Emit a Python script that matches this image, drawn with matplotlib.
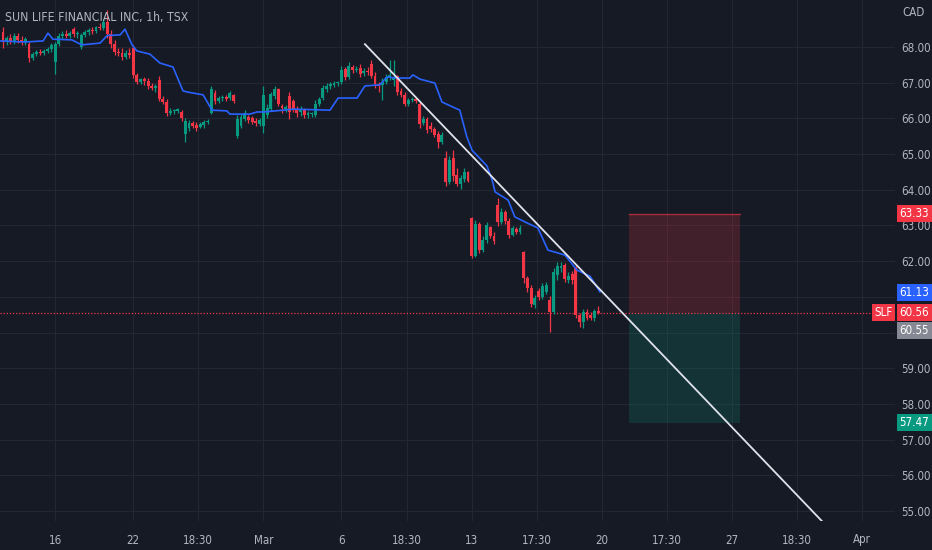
import matplotlib
matplotlib.use("Agg")
import matplotlib.pyplot as plt
import matplotlib.transforms as mtransforms
from matplotlib.patches import Rectangle

plt.rcParams['font.family'] = ['DejaVu Sans']
plt.rcParams['font.stretch'] = 'condensed'

# hourly bars, Feb 14 -> Mar 17 (7 bars per session)
opens = [
    68.42, 68.14, 68.25, 68.17, 68.31, 68.20, 68.14,
    68.08, 67.69, 67.80, 67.86, 67.83, 67.89, 67.94,
    67.58, 68.08, 68.31, 68.36, 68.31, 68.50, 68.36,
    68.00, 68.34, 68.42, 68.48, 68.45, 68.56, 68.53,
    68.70, 68.36, 68.08, 67.86, 67.83, 67.72, 67.83,
    67.97, 67.22, 67.02, 67.10, 67.05, 66.91, 66.85,
    67.08, 66.54, 66.46, 66.15, 66.21, 66.21, 66.18,
    65.56, 65.73, 65.87, 65.81, 65.76, 65.81, 65.90,
    66.15, 66.71, 66.49, 66.57, 66.60, 66.57, 66.66,
    65.51, 65.79, 65.98, 66.04, 66.01, 65.93, 65.84,
    65.79, 66.09, 66.26, 66.63, 66.82, 66.35, 66.26,
    66.63, 66.49, 66.23, 66.18, 66.23, 66.09, 66.12,
    66.09, 66.40, 66.57, 66.82, 66.91, 66.94, 66.99,
    67.02, 67.38, 67.16, 67.44, 67.36, 67.41, 67.27,
    67.33, 67.52, 67.19, 66.96, 66.94, 67.02, 67.13,
    67.08, 67.19, 66.77, 66.66, 66.40, 66.52, 66.54,
    66.40, 65.87, 65.98, 65.79, 65.70, 65.56, 65.34,
    64.89, 64.22, 64.89, 64.41, 64.16, 64.30, 64.50,
    63.21, 62.14, 63.04, 62.31, 62.59, 62.96, 62.70,
    63.57, 63.10, 63.38, 63.13, 62.73, 62.90, 62.82,
    62.26, 61.53, 61.25, 60.77, 61.16, 61.00, 61.14,
    60.91, 60.58, 61.61, 61.81, 61.89, 61.47, 61.64,
    61.81, 60.49, 60.30, 60.58, 60.49, 60.41, 60.60,
]
highs = [
    68.56, 68.31, 68.36, 68.39, 68.39, 68.31, 68.28,
    68.14, 67.86, 67.92, 67.94, 67.94, 68.00, 68.11,
    68.14, 68.39, 68.45, 68.48, 68.45, 68.56, 68.45,
    68.39, 68.48, 68.53, 68.56, 68.59, 68.67, 68.78,
    69.04, 68.48, 68.20, 67.97, 67.97, 67.92, 67.97,
    68.06, 67.27, 67.13, 67.16, 67.13, 66.99, 66.96,
    67.19, 66.63, 66.54, 66.29, 66.26, 66.29, 66.23,
    66.01, 65.95, 65.93, 65.90, 65.90, 65.95, 65.98,
    66.91, 66.80, 66.63, 66.66, 66.66, 66.77, 66.68,
    66.09, 66.12, 66.23, 66.09, 66.07, 66.01, 66.01,
    66.91, 66.40, 66.74, 66.91, 66.85, 66.40, 66.38,
    66.74, 66.54, 66.35, 66.35, 66.29, 66.21, 66.18,
    66.52, 66.60, 66.94, 66.99, 67.02, 67.05, 67.05,
    67.47, 67.44, 67.58, 67.50, 67.47, 67.52, 67.41,
    67.44, 67.64, 67.30, 67.02, 67.13, 67.24, 67.64,
    67.64, 67.22, 66.85, 66.74, 66.57, 66.60, 66.60,
    66.46, 66.07, 66.04, 65.90, 65.76, 65.65, 65.62,
    65.09, 64.95, 65.11, 64.61, 64.41, 64.61, 64.53,
    63.24, 63.15, 63.10, 62.70, 63.10, 62.99, 62.82,
    63.77, 63.49, 63.43, 63.21, 62.99, 62.96, 63.01,
    62.28, 61.58, 61.33, 61.05, 61.25, 61.39, 61.42,
    61.02, 61.81, 61.98, 61.98, 61.95, 61.70, 61.72,
    61.86, 60.55, 60.66, 60.66, 60.58, 60.66, 60.74,
]
lows = [
    67.97, 68.06, 68.08, 68.08, 68.11, 68.06, 68.06,
    67.58, 67.64, 67.75, 67.78, 67.78, 67.83, 67.86,
    67.24, 68.03, 68.22, 68.25, 68.25, 68.28, 68.25,
    67.94, 68.28, 68.34, 68.36, 68.39, 68.48, 68.48,
    68.25, 67.97, 67.78, 67.75, 67.64, 67.66, 67.69,
    67.13, 66.96, 66.96, 66.94, 66.82, 66.80, 66.74,
    66.49, 66.40, 66.07, 66.09, 66.12, 66.15, 65.93,
    65.34, 65.65, 65.73, 65.65, 65.73, 65.73, 65.84,
    66.12, 66.40, 66.43, 66.49, 66.49, 66.52, 66.43,
    65.45, 65.73, 65.93, 65.87, 65.84, 65.79, 65.79,
    65.59, 66.01, 66.21, 66.54, 66.35, 66.15, 66.18,
    65.98, 66.18, 66.04, 66.07, 66.01, 66.01, 66.04,
    66.04, 66.35, 66.52, 66.74, 66.82, 66.88, 66.91,
    66.96, 67.08, 67.10, 67.27, 67.30, 67.16, 67.19,
    67.22, 67.13, 66.85, 66.74, 66.52, 66.96, 67.08,
    66.91, 66.66, 66.60, 66.35, 66.35, 66.46, 66.43,
    65.73, 65.81, 65.59, 65.62, 65.48, 65.17, 65.28,
    64.11, 64.16, 64.25, 64.11, 64.02, 64.22, 64.22,
    62.09, 62.12, 62.23, 62.26, 62.51, 62.65, 62.48,
    62.99, 63.04, 63.04, 62.65, 62.70, 62.76, 62.76,
    61.39, 61.14, 60.72, 60.69, 60.91, 60.94, 61.08,
    60.02, 60.52, 61.47, 61.70, 61.42, 61.39, 61.36,
    60.41, 60.16, 60.13, 60.35, 60.35, 60.32, 60.52,
]
closes = [
    68.14, 68.25, 68.17, 68.31, 68.20, 68.14, 68.22,
    67.69, 67.80, 67.86, 67.83, 67.89, 67.94, 68.06,
    68.08, 68.31, 68.36, 68.31, 68.39, 68.36, 68.39,
    68.34, 68.42, 68.48, 68.45, 68.56, 68.53, 68.70,
    68.36, 68.08, 67.86, 67.83, 67.72, 67.83, 67.78,
    67.22, 67.02, 67.10, 67.05, 66.91, 66.85, 66.91,
    66.54, 66.46, 66.15, 66.21, 66.23, 66.26, 66.01,
    65.93, 65.87, 65.79, 65.73, 65.84, 65.90, 65.93,
    66.82, 66.49, 66.57, 66.60, 66.54, 66.71, 66.49,
    65.98, 66.04, 66.15, 65.95, 65.90, 65.87, 65.95,
    66.66, 66.29, 66.68, 66.82, 66.40, 66.29, 66.32,
    66.18, 66.26, 66.15, 66.26, 66.09, 66.15, 66.15,
    66.40, 66.54, 66.85, 66.91, 66.96, 66.99, 67.02,
    67.36, 67.16, 67.47, 67.36, 67.38, 67.24, 67.33,
    67.30, 67.19, 66.96, 66.91, 67.02, 67.16, 67.22,
    67.16, 66.74, 66.66, 66.40, 66.52, 66.54, 66.49,
    65.84, 65.98, 65.67, 65.70, 65.53, 65.34, 65.53,
    64.22, 64.83, 64.39, 64.16, 64.33, 64.50, 64.25,
    62.14, 63.04, 62.31, 62.59, 63.01, 62.70, 62.57,
    63.10, 63.38, 63.13, 62.73, 62.93, 62.82, 62.93,
    61.53, 61.25, 60.80, 60.97, 61.00, 61.30, 61.33,
    60.58, 61.70, 61.86, 61.86, 61.50, 61.58, 61.47,
    60.49, 60.30, 60.58, 60.41, 60.41, 60.60, 60.56,
]

# blue indicator line (bar index, price)
blue_x = [-0.8, 5.9, 10.8, 12.1, 13.4, 18.5, 21.2, 26.1, 28.0, 31.5, 32.8, 34.7,
          36.0, 39.5, 42.2, 45.7, 48.4, 49.5, 53.8, 56.2, 60.2, 61.0, 66.4, 68.3,
          69.9, 75.3, 78.0, 87.9, 90.1, 95.2, 97.3, 101.3, 103.2, 105.9, 109.4,
          110.2, 112.1, 116.1, 118.0, 122.8, 124.7, 126.1, 130.1, 131.5, 132.3,
          135.8, 137.6, 140.9, 143.8, 146.5, 151.1, 154.3, 157.8, 160.5]
blue_y = [68.17, 68.14, 68.17, 68.39, 68.22, 68.20, 68.06, 68.11, 68.32, 68.34, 68.50, 68.06,
          67.89, 67.80, 67.55, 67.44, 66.77, 66.74, 66.66, 66.23, 66.21, 66.12, 66.12, 66.18,
          66.18, 66.23, 66.26, 66.23, 66.57, 66.57, 66.91, 66.94, 67.16, 67.13, 67.13,
          67.22, 67.10, 66.99, 66.46, 66.23, 65.48, 65.11, 64.67, 64.27, 63.94,
          63.71, 63.24, 63.07, 62.93, 62.31, 62.17, 61.75, 61.58, 61.14]

# drawings
trend_x = [97.3, 225.0]
trend_y = [68.08, 54.19]
pos_x = [168.3, 198.1]
entry, stop, target = 60.56, 63.33, 57.47
last_price = 60.56
bid_price = 60.55
blue_last = 61.13

tick_pos = [14, 35, 52.5, 70, 91, 108.5, 126, 143.5, 161, 178.5, 196, 213.5, 231]
tick_lbl = ['16', '22', '18:30', 'Mar', '6', '18:30', '13', '17:30', '20', '17:30', '27', '18:30', 'Apr']
price_ticks = list(range(55, 69))
hidden_ticks = [60, 61]   # covered by the price tags

BG = '#161a25'
GRID = '#242733'
TXT = '#b2b5be'
UP = '#089981'
DN = '#f23645'
BLUE = '#2962ff'
FS = 8.3

fig = plt.figure(figsize=(9.32, 5.5), dpi=100, facecolor=BG)
ax = fig.add_axes([0, 1 - 521 / 550, 895 / 932, 521 / 550])
ax.set_facecolor(BG)
ax.set_xlim(-0.8, 239.8)
ax.set_ylim(54.72, 69.317)

for s in ax.spines.values():
    s.set_visible(False)

ax.set_yticks(price_ticks)
ax.set_yticklabels(['' if p in hidden_ticks else '%.2f' % p for p in price_ticks])
ax.yaxis.tick_right()
ax.set_xticks(tick_pos)
ax.set_xticklabels(tick_lbl)
ax.tick_params(axis='both', length=0, colors=TXT, labelsize=FS)
ax.tick_params(axis='x', pad=9)
ax.tick_params(axis='y', pad=4.5)
ax.grid(True, color=GRID, lw=0.8)
ax.set_axisbelow(True)

# candles
xs = list(range(len(opens)))
cols = [UP if c >= o else DN for o, c in zip(opens, closes)]
ax.vlines(xs, lows, highs, colors=cols, lw=0.9, zorder=3)
bottoms = [min(o, c) for o, c in zip(opens, closes)]
heights = [max(abs(c - o), 0.03) for o, c in zip(opens, closes)]
ax.bar(xs, heights, bottom=bottoms, width=0.78, color=cols, lw=0, zorder=4)

ax.plot(blue_x, blue_y, color=BLUE, lw=1.2, zorder=5)

# position tool
ax.add_patch(Rectangle((pos_x[0], entry), pos_x[1] - pos_x[0], stop - entry,
                       facecolor=DN, alpha=0.2, lw=0, zorder=2))
ax.add_patch(Rectangle((pos_x[0], target), pos_x[1] - pos_x[0], entry - target,
                       facecolor=UP, alpha=0.2, lw=0, zorder=2))
ax.plot(pos_x, [stop, stop], color=DN, lw=1, alpha=0.6, zorder=2)

ax.plot(trend_x, trend_y, color='#e0e3eb', lw=1.3, zorder=6)

ax.axhline(last_price, color=DN, lw=0.9, ls=(0, (1, 1.5)), zorder=2)

ax.text(5 / 895, 1 - 17 / 521, 'SUN LIFE FINANCIAL INC, 1h, TSX', transform=ax.transAxes,
        color=TXT, fontsize=8.8, va='center', ha='left', zorder=10)

# right scale labels
tr = mtransforms.blended_transform_factory(ax.transAxes, ax.transData)
h = 17 / 35.69
def tag(y, text, color, x0=1 + 2 / 895, x1=1 + 37 / 895):
    ax.add_patch(Rectangle((x0, y - h / 2), x1 - x0, h, transform=tr, facecolor=color,
                           lw=0, clip_on=False, zorder=10))
    ax.text(x0 + (x1 - x0) / 2, y, text, transform=tr, color='white', fontsize=FS,
            ha='center', va='center', clip_on=False, zorder=11)

tag(stop, '%.2f' % stop, DN)
tag(blue_last, '%.2f' % blue_last, BLUE)
tag(last_price, '%.2f' % last_price, DN)
tag(bid_price - 0.5, '%.2f' % bid_price, '#868993')
tag(target, '%.2f' % target, UP)
tag(last_price, 'SLF', DN, x0=1 - 23 / 895, x1=1)

ax.text(1 + 7 / 895, 1 - 13 / 521, 'CAD', transform=ax.transAxes, color=TXT,
        fontsize=FS, va='center', ha='left', clip_on=False)

fig.savefig('out.png', dpi=100, facecolor=BG)
